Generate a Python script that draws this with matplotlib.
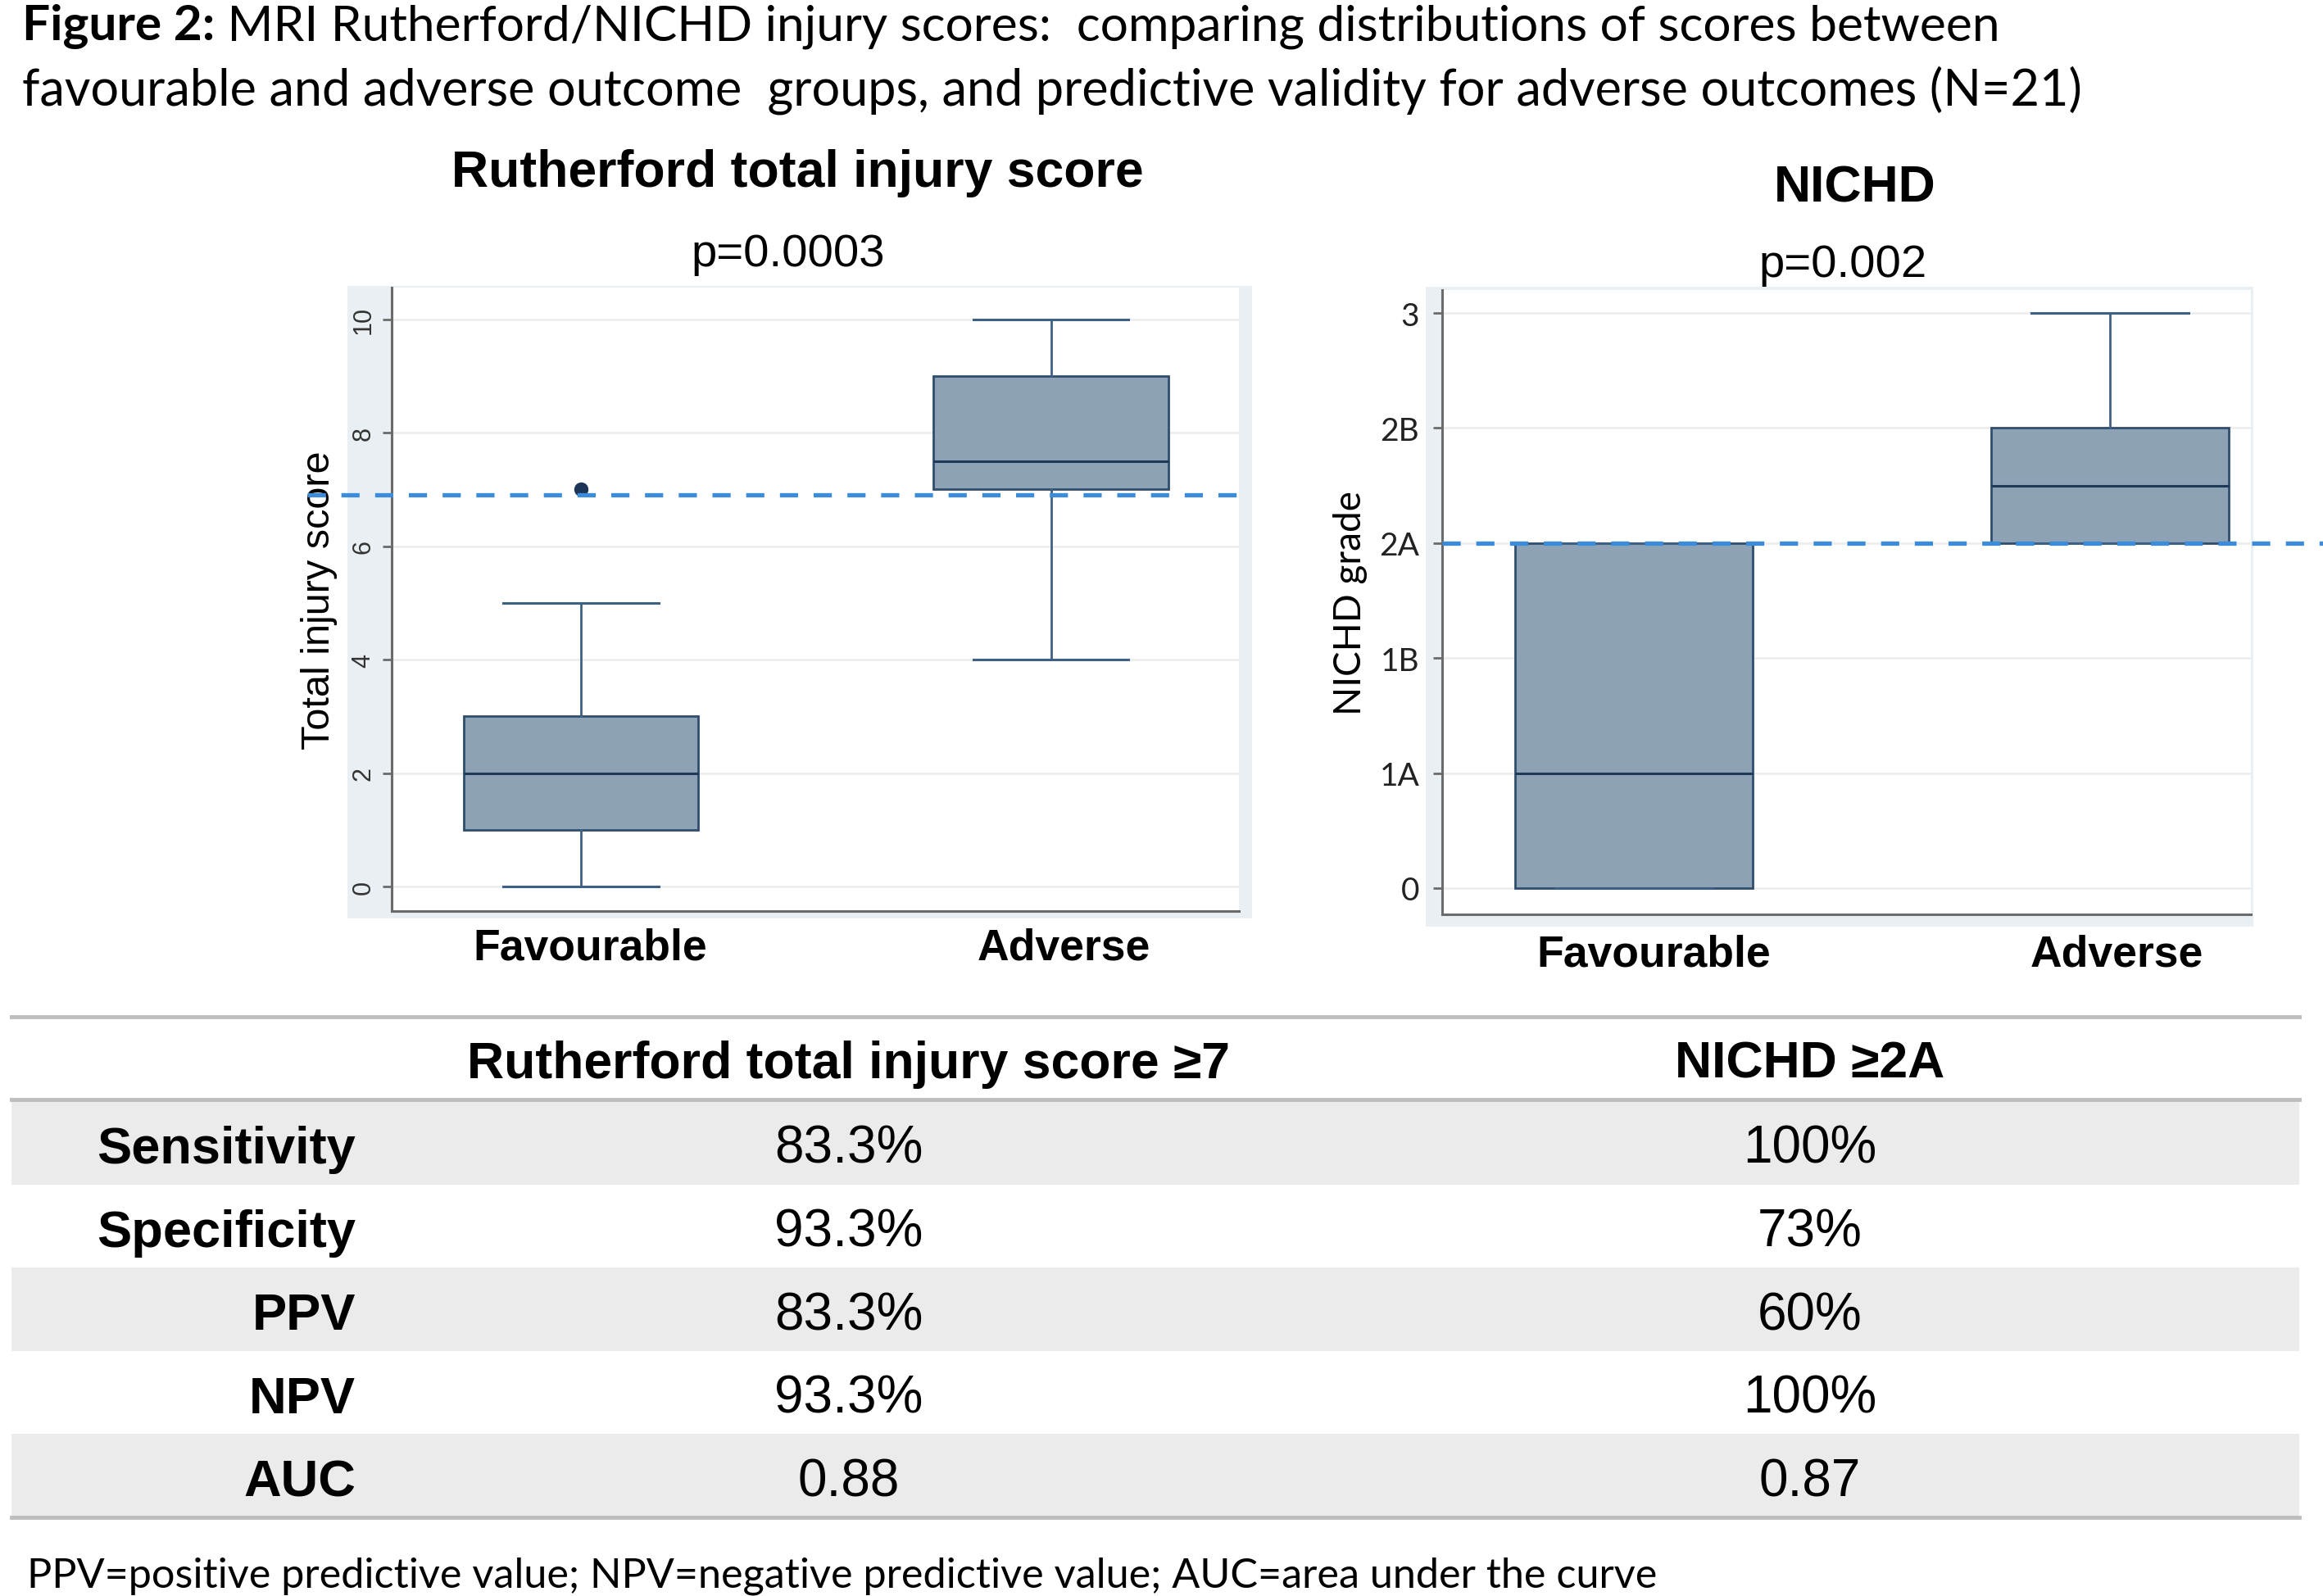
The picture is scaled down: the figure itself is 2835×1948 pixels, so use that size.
import matplotlib
matplotlib.use("Agg")
import matplotlib.pyplot as plt
import matplotlib.transforms as mtransforms
from matplotlib.patches import Rectangle

# === Data ===
groups = ["Favourable", "Adverse"]

# Rutherford total injury score: min, q1, median, q3, max, outliers
ruth_whislo = [0, 4]
ruth_q1 = [1, 7]
ruth_med = [2, 7.5]
ruth_q3 = [3, 9]
ruth_whishi = [5, 10]
ruth_fliers = [[7], []]
ruth_cutoff = 6.9

# NICHD grade (0=0, 1=1A, 2=1B, 3=2A, 4=2B, 5=3)
nichd_labels = ["0", "1A", "1B", "2A", "2B", "3"]
nichd_whislo = [0, 3]
nichd_q1 = [0, 3]
nichd_med = [1, 3.5]
nichd_q3 = [3, 4]
nichd_whishi = [3, 5]
nichd_fliers = [[], []]
nichd_cutoff = 3

row_labels = ["Sensitivity", "Specificity", "PPV", "NPV", "AUC"]
col_headers = ["Rutherford total injury score \u22657", "NICHD \u22652A"]
ruth_vals = ["83.3%", "93.3%", "83.3%", "93.3%", "0.88"]
nichd_vals = ["100%", "73%", "60%", "100%", "0.87"]

title_bold = "Figure 2:"
title_rest = " MRI Rutherford/NICHD injury scores:  comparing distributions of scores between"
title_line2 = "favourable and adverse outcome  groups, and predictive validity for adverse outcomes (N=21)"
footnote = "PPV=positive predictive value; NPV=negative predictive value; AUC=area under the curve"

# === Style ===
ARIAL = "Liberation Sans"
CALIBRI = "Lato"
BOX_FACE = "#8ea2b6"
BOX_EDGE = "#2f4d6d"
MED_COL = "#1f3a58"
DASH_COL = "#3b8ddb"
REGION = "#e9eff2"
SPINE = "#6b6b6b"
W, H = 2835, 1949

fig = plt.figure(figsize=(W / 100, H / 100), dpi=100)

# background overlay in pixel coords
bg = fig.add_axes([0, 0, 1, 1])
bg.set_xlim(0, W)
bg.set_ylim(H, 0)
bg.axis("off")
bg.set_zorder(0)

bg.add_patch(Rectangle((424, 350), 1104, 772, color=REGION, lw=0))
bg.add_patch(Rectangle((1740, 351), 1010, 781, color=REGION, lw=0))


def stats(whislo, q1, med, q3, whishi, fliers):
    return [dict(whislo=a, q1=b, med=c, q3=d, whishi=e, fliers=f)
            for a, b, c, d, e, f in zip(whislo, q1, med, q3, whishi, fliers)]


def draw_box(ax, st, pad, shifts):
    ax.bxp(st, positions=[1, 2], widths=0.5, capwidths=0.33, patch_artist=True,
           showfliers=True,
           boxprops=dict(facecolor=BOX_FACE, edgecolor=BOX_EDGE, linewidth=2),
           whiskerprops=dict(color="#3f6085", linewidth=2),
           capprops=dict(color="#3f6085", linewidth=2.2),
           medianprops=dict(color=MED_COL, linewidth=2.2),
           flierprops=dict(marker="o", markerfacecolor="#1a3556",
                           markeredgecolor="#1a3556", markersize=11.5), zorder=3)
    for s in ["top", "right"]:
        ax.spines[s].set_visible(False)
    for s in ["left", "bottom"]:
        ax.spines[s].set_color(SPINE)
        ax.spines[s].set_linewidth(2.2)
    ax.grid(axis="y", color="#ececec", linewidth=1.8, zorder=0)
    ax.set_axisbelow(True)
    ax.set_xticks([1, 2])
    ax.set_xticklabels(groups, fontfamily=ARIAL, fontweight="bold", fontsize=38.5)
    ax.tick_params(axis="x", length=0, pad=pad)
    ax.tick_params(axis="y", length=8, width=2, color=SPINE)
    # small horizontal nudges of the group labels (pixels)
    for lab, dx in zip(ax.get_xticklabels(), shifts):
        lab.set_transform(lab.get_transform() +
                          mtransforms.ScaledTranslation(dx / 100, 0, fig.dpi_scale_trans))


# --- Rutherford ---
ax1 = fig.add_axes([478 / W, 1 - 1113 / H, 1034 / W, (1113 - 352) / H])
ax1.set_zorder(1)
draw_box(ax1, stats(ruth_whislo, ruth_q1, ruth_med, ruth_q3, ruth_whishi, ruth_fliers),
         14, [11, 16])
ax1.set_xlim(0.597, 2.40)
ax1.set_ylim(-0.434, 10.56)
ax1.set_yticks(range(0, 11, 2))
ax1.set_yticklabels([str(v) for v in range(0, 11, 2)], rotation=90, va="center",
                    fontfamily=ARIAL, fontsize=22, color="#333333")
ax1.tick_params(axis="y", pad=6)
ax1.axhline(ruth_cutoff, xmin=-0.1, xmax=1.0, color=DASH_COL, linewidth=3.8,
            dashes=(4.2, 3.6), clip_on=False, zorder=4)
ax1.set_ylabel("Total injury score", fontfamily=ARIAL, fontsize=35, labelpad=12)

# --- NICHD ---
ax2 = fig.add_axes([1760 / W, 1 - 1117 / H, 987 / W, (1117 - 355) / H])
ax2.set_zorder(1)
draw_box(ax2, stats(nichd_whislo, nichd_q1, nichd_med, nichd_q3, nichd_whishi, nichd_fliers),
         17, [24, 8])
ax2.set_xlim(0.597, 2.296)
ax2.set_ylim(-0.228, 5.2)
ax2.set_yticks(range(len(nichd_labels)))
ax2.set_yticklabels(nichd_labels, fontfamily=CALIBRI, fontsize=28, color="#222222")
ax2.tick_params(axis="y", pad=12)
ax2.plot([0.597, 2.447], [nichd_cutoff, nichd_cutoff], color=DASH_COL, linewidth=3.8,
         dashes=(4.2, 3.6), clip_on=False, zorder=4)
ax2.set_ylabel("NICHD grade", fontfamily=CALIBRI, fontsize=33, labelpad=10)

# --- plot titles ---
bg.text(973, 228, "Rutherford total injury score", ha="center", va="baseline",
        fontfamily=ARIAL, fontweight="bold", fontsize=45)
bg.text(962, 325, "p=0.0003", ha="center", va="baseline", fontfamily=ARIAL, fontsize=40.5)
bg.text(2264, 246, "NICHD", ha="center", va="baseline",
        fontfamily=ARIAL, fontweight="bold", fontsize=45)
bg.text(2249, 338, "p=0.002", ha="center", va="baseline", fontfamily=ARIAL, fontsize=40.5)

# --- figure title ---
t1 = bg.text(27, 49, title_bold, ha="left", va="baseline",
             fontfamily=CALIBRI, fontweight="bold", fontsize=43.5)
bg.annotate(title_rest, xy=(1, 0), xycoords=t1, ha="left", va="bottom",
            fontfamily=CALIBRI, fontsize=43.5)
bg.text(27, 128, title_line2, ha="left", va="baseline", fontfamily=CALIBRI, fontsize=44)

# --- table ---
line_kw = dict(color="#bdbdbd", linewidth=3.5)
x0, x1 = 14, 2806
row_top = 1345
row_h = 101.6
for i in range(len(row_labels)):
    if i % 2 == 0:
        bg.add_patch(Rectangle((x0, row_top + i * row_h), x1 - x0, row_h,
                               color="#ebebeb", lw=0))
bg.plot([x0, x1], [1242, 1242], **line_kw)
bg.plot([x0, x1], [1343, 1343], **line_kw)
bg.plot([x0, x1], [1853, 1853], **line_kw)

col_x = [1036, 2209]
for cx, hdr in zip(col_x, col_headers):
    bg.text(cx, 1316, hdr, ha="center", va="baseline", fontfamily=ARIAL,
            fontweight="bold", fontsize=45)
for i, (lab, rv, nv) in enumerate(zip(row_labels, ruth_vals, nichd_vals)):
    yb = 1420 + i * row_h
    bg.text(434, yb, lab, ha="right", va="baseline", fontfamily=ARIAL,
            fontweight="bold", fontsize=45.5)
    bg.text(col_x[0], yb, rv, ha="center", va="baseline", fontfamily=ARIAL, fontsize=46)
    bg.text(col_x[1], yb, nv, ha="center", va="baseline", fontfamily=ARIAL, fontsize=46)

bg.text(33, 1938, footnote, ha="left", va="baseline", fontfamily=CALIBRI, fontsize=36.3)

fig.savefig("out.png", dpi=100, facecolor="white")
